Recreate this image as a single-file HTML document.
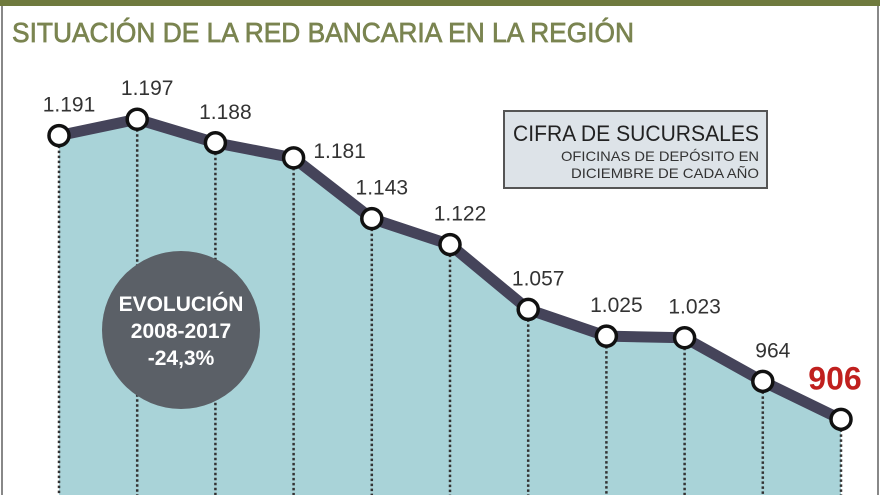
<!DOCTYPE html>
<html><head><meta charset="utf-8"><style>
html,body{margin:0;padding:0;background:#fff;}
svg{display:block;font-family:"Liberation Sans",sans-serif;}
</style></head><body>
<svg id="chart" width="880" height="495" viewBox="0 0 880 495">
  <rect x="0" y="0" width="880" height="6" fill="#6f7a3e"/>
  <line x1="2" y1="6" x2="2" y2="495" stroke="#888" stroke-width="2"/>
  <line x1="878" y1="6" x2="878" y2="495" stroke="#888" stroke-width="2"/>
  <text x="12" y="42" font-size="28" fill="#7a8450" stroke="#7a8450" stroke-width="0.7" textLength="622" lengthAdjust="spacingAndGlyphs">SITUACIÓN DE LA RED BANCARIA EN LA REGIÓN</text>
  <g id="area-layer"></g>
  <g id="grid-layer"></g>
  <circle cx="181" cy="330" r="79" fill="#5b6067"/>
  <g font-weight="bold" fill="#fff" font-size="21" text-anchor="middle">
    <text x="181" y="311">EVOLUCIÓN</text>
    <text x="181" y="338">2008-2017</text>
    <text x="181" y="365">-24,3%</text>
  </g>
  <g id="line-layer"></g>
  <g>
    <rect x="504" y="111" width="263" height="77" fill="#dde3e8" stroke="#555" stroke-width="2"/>
    <text x="759" y="141" font-size="22" fill="#222" text-anchor="end" textLength="246" lengthAdjust="spacingAndGlyphs">CIFRA DE SUCURSALES</text>
    <text x="759" y="161" font-size="14" fill="#333" text-anchor="end" textLength="198" lengthAdjust="spacingAndGlyphs">OFICINAS DE DEPÓSITO EN</text>
    <text x="759" y="178" font-size="14" fill="#333" text-anchor="end" textLength="188" lengthAdjust="spacingAndGlyphs">DICIEMBRE DE CADA AÑO</text>
  </g>
</svg>
<script>
const years = [2007,2008,2009,2010,2011,2012,2013,2014,2015,2016,2017];
const values = [1191,1197,1188,1181,1143,1122,1057,1025,1023,964,906];
const valueLabels = ["1.191","1.197","1.188","1.181","1.143","1.122","1.057","1.025","1.023","964","906"];

const NS = "http://www.w3.org/2000/svg";
function xScale(i){ return 59 + i * (841 - 59) / (years.length - 1); }
function yScale(v){ return 41 + 21.7 * Math.sqrt(Math.max(0, 1210 - v)); }
function mk(tag, attrs, parent){ const e=document.createElementNS(NS,tag); for(const k in attrs) e.setAttribute(k,attrs[k]); parent.appendChild(e); return e; }

const areaLayer=document.getElementById('area-layer');
const gridLayer=document.getElementById('grid-layer');
const lineLayer=document.getElementById('line-layer');

let pts = values.map((v,i)=>xScale(i)+','+yScale(v));
const area = mk('polygon',{points: xScale(0)+',495 '+pts.join(' ')+' '+xScale(values.length-1)+',495', fill:'#a9d3d8'}, areaLayer);



values.forEach((v,i)=>{
  const g = mk('line',{x1:xScale(i),y1:yScale(v),x2:xScale(i),y2:495,stroke:'#333','stroke-width':2.5,'stroke-dasharray':'2.5 2.5'}, gridLayer);
  
  
});

const line = mk('polyline',{points:pts.join(' '),fill:'none',stroke:'#45445a','stroke-width':11,'stroke-linejoin':'round'}, lineLayer);



values.forEach((v,i)=>{
  const c = mk('circle',{cx:xScale(i),cy:yScale(v),r:10,fill:'#fff',stroke:'#111','stroke-width':3.5}, lineLayer);
  
  
  const last = i===values.length-1;
  const side = (i===3);
  const lx = last ? xScale(i)-6 : xScale(i)+(side?46:10);
  const ly = last ? yScale(v)-30 : yScale(v)-(side?0:24);
  const t = mk('text',{x:lx,y:ly,'text-anchor':'middle','font-size':last?32:21,'font-weight':last?'bold':'normal',fill:last?'#c0201e':'#333'}, lineLayer);
  t.textContent = valueLabels[i];
  
  
});
</script>
</body></html>
